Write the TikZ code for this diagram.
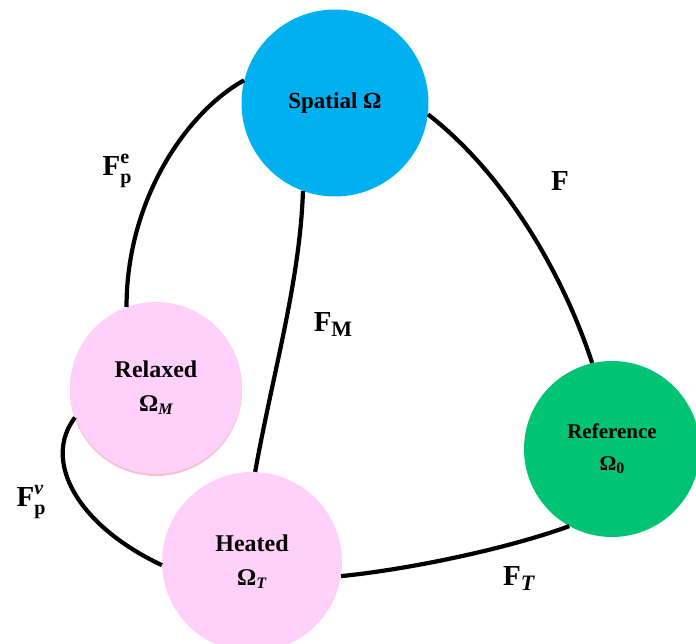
\documentclass[tikz,border=0pt]{standalone}
\usepackage{fontspec}
\setmainfont{Liberation Serif}
\definecolor{spatialblue}{RGB}{0,176,240}
\definecolor{refgreen}{RGB}{0,195,116}
\definecolor{softpink}{RGB}{255,208,250}
\definecolor{pinkshadow}{RGB}{250,190,198}
\newcommand{\ssub}[1]{\raisebox{-0.28ex}{\fontsize{16}{16}\selectfont #1}}
\newcommand{\supsub}[2]{\makebox[0pt][l]{\raisebox{0.42em}{\fontsize{20}{20}\selectfont #1}}\raisebox{-0.28em}{\fontsize{20}{20}\selectfont #2}}
\newcommand{\lsub}[1]{\raisebox{-5pt}{\fontsize{22}{22}\selectfont #1}}
\begin{document}
\begin{tikzpicture}[x=1pt,y=-1pt,
  state/.style={circle, inner sep=0pt, align=center, font=\bfseries\fontsize{24}{34}\selectfont},
  link/.style={line width=4.2pt, black},
  lab/.style={font=\bfseries\fontsize{29}{29}\selectfont, inner sep=0pt}]
\useasboundingbox (0,0) rectangle (696,644);
% slight shadow under the relaxed circle
\fill[pinkshadow] (156,390) circle (86pt);
\node[state, fill=spatialblue, minimum size=187pt, font=\bfseries\fontsize{23}{33}\selectfont] (spatial) at (335,103) {Spatial Ω};
\node[state, fill=softpink, minimum size=172pt] (relaxed) at (156,388) {Relaxed\\Ω\ssub{\textit{M}}};
\node[state, fill=softpink, minimum size=180pt] (heated) at (252,562) {Heated\\Ω\ssub{\textit{T}}};
\node[state, fill=refgreen, minimum size=176pt, font=\bfseries\fontsize{21}{32}\selectfont] (reference) at (612,449) {Reference\\Ω\ssub{0}};
% connectors
\draw[link] (spatial.166) .. controls +(-55,30) and +(0,-110) .. (relaxed.110);
\draw[link] (spatial.250) .. controls +(-3,90) and +(18,-100) .. (heated.88);
\draw[link] (relaxed.200) .. controls +(-33,43) and +(-85,-40) .. (heated.182);
\draw[link] (spatial.353) .. controls +(75,58) and +(-30,-92) .. (reference.103);
\draw[link] (heated.351) .. controls +(70,-7) and +(-60,22) .. (reference.241);
% labels
\node[lab] (lfpe) at (117,171) {F\supsub{e}{p}};
\node[lab] (lfm) at (333,325) {F\lsub{M}};
\node[lab] (lfpv) at (31,502) {F\supsub{\textit{v}}{p}};
\node[lab] (lf) at (560,181) {F};
\node[lab] (lft) at (519,579) {F\lsub{\textit{T}}};
\end{tikzpicture}
\end{document}
